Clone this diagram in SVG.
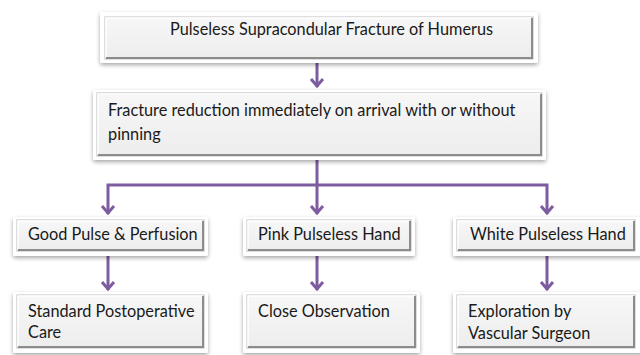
<svg xmlns="http://www.w3.org/2000/svg" width="640" height="355" viewBox="0 0 640 355">
<defs>
<filter id="sh" x="-10%" y="-20%" width="120%" height="150%">
<feDropShadow dx="0" dy="2" stdDeviation="2" flood-color="#000" flood-opacity="0.35"/>
</filter>
<linearGradient id="g" x1="0" y1="0" x2="0" y2="1">
<stop offset="0" stop-color="#f7f7f7"/>
<stop offset="1" stop-color="#ededed"/>
</linearGradient>
<marker id="ah" markerUnits="userSpaceOnUse" markerWidth="14" markerHeight="16" refX="11" refY="8" orient="auto-start-reverse" viewBox="0 0 14 16">
<path d="M3,2 L10,8 L3,14" fill="none" stroke="#7e5ca0" stroke-width="3" stroke-linejoin="miter"/>
</marker>
</defs>
<style>
.outer{fill:#fff;filter:url(#sh)}
.inner{fill:url(#g);stroke:#bdbdbd;stroke-width:1}
.hl{fill:none;stroke:#fff;stroke-width:1.5}
.dk{fill:none;stroke:#8c8c8c;stroke-width:2}
.t{font-family:"Lato","Liberation Sans",Arial,sans-serif;font-size:16.3px;fill:#1a1a1a}
.c{fill:none;stroke:#7e5ca0;stroke-width:3}
</style>
<g id="connectors">
<path class="c" d="M317,63 V87" marker-end="url(#ah)"/>
<path class="c" d="M317,160 V214" marker-end="url(#ah)"/>
<path class="c" d="M108,214 V185 H547 V214" marker-end="url(#ah)" marker-start="url(#ah)"/>
<path class="c" d="M108,256 V290" marker-end="url(#ah)"/>
<path class="c" d="M317,256 V290" marker-end="url(#ah)"/>
<path class="c" d="M547,256 V290" marker-end="url(#ah)"/>
</g>
<g id="n1">
<rect class="outer" x="100" y="12" width="438" height="51" rx="2"/>
<rect class="inner" x="105" y="17" width="428" height="42"/>
<path class="hl" d="M106,58 V18 H532"/>
<path class="dk" d="M106,58 H532 V18"/>
<text class="t" x="170" y="35">Pulseless Supracondular Fracture of Humerus</text>
</g>
<g id="n2">
<rect class="outer" x="93" y="90" width="453" height="70" rx="2"/>
<rect class="inner" x="97" y="93" width="445" height="63"/>
<path class="hl" d="M98,155 V94 H541"/>
<path class="dk" d="M98,155 H541 V94"/>
<text class="t" x="108" y="116">Fracture reduction immediately on arrival with or without</text>
<text class="t" x="108" y="140">pinning</text>
</g>
<g id="n3">
<rect class="outer" x="13" y="217" width="195" height="39" rx="2"/>
<rect class="inner" x="17" y="220" width="187" height="31"/>
<path class="hl" d="M18,250 V221 H203"/>
<path class="dk" d="M18,250 H203 V221"/>
<text class="t" x="28" y="240">Good Pulse &amp; Perfusion</text>
</g>
<g id="n4">
<rect class="outer" x="243" y="217" width="172" height="39" rx="2"/>
<rect class="inner" x="247" y="220" width="164" height="31"/>
<path class="hl" d="M248,250 V221 H410"/>
<path class="dk" d="M248,250 H410 V221"/>
<text class="t" x="258" y="240">Pink Pulseless Hand</text>
</g>
<g id="n5">
<rect class="outer" x="453" y="217" width="192" height="39" rx="2"/>
<rect class="inner" x="457" y="220" width="178" height="31"/>
<path class="hl" d="M458,250 V221 H634"/>
<path class="dk" d="M458,250 H634 V221"/>
<text class="t" x="470" y="240">White Pulseless Hand</text>
</g>
<g id="n6">
<rect class="outer" x="13" y="292" width="195" height="61" rx="2"/>
<rect class="inner" x="17" y="295" width="187" height="53"/>
<path class="hl" d="M18,347 V296 H203"/>
<path class="dk" d="M18,347 H203 V296"/>
<text class="t" x="28" y="317">Standard Postoperative</text>
<text class="t" x="28" y="338">Care</text>
</g>
<g id="n7">
<rect class="outer" x="243" y="292" width="177" height="61" rx="2"/>
<rect class="inner" x="247" y="295" width="169" height="53"/>
<path class="hl" d="M248,347 V296 H415"/>
<path class="dk" d="M248,347 H415 V296"/>
<text class="t" x="258" y="317">Close Observation</text>
</g>
<g id="n8">
<rect class="outer" x="453" y="292" width="192" height="61" rx="2"/>
<rect class="inner" x="457" y="295" width="178" height="53"/>
<path class="hl" d="M458,347 V296 H634"/>
<path class="dk" d="M458,347 H634 V296"/>
<text class="t" x="468" y="317">Exploration by</text>
<text class="t" x="468" y="339">Vascular Surgeon</text>
</g>
</svg>
